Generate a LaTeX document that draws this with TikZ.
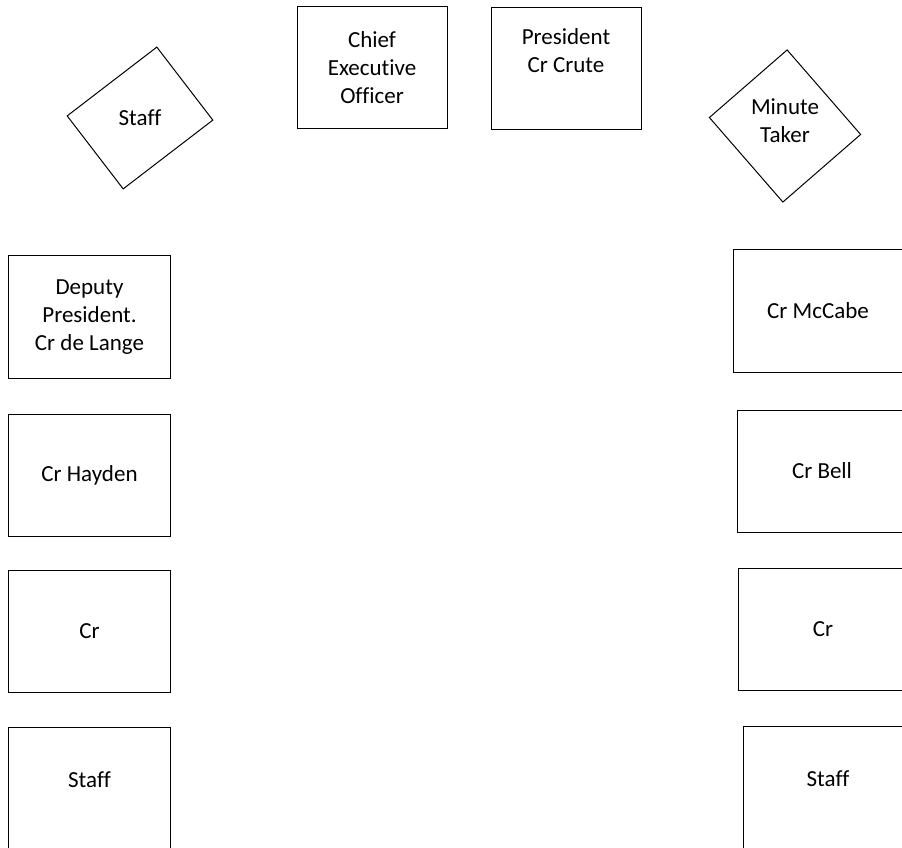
\documentclass[tikz,border=0pt]{standalone}
\usepackage{fontspec}
\setmainfont{Carlito}[Ligatures=NoCommon]
\usepackage{tikz}

\begin{document}
\begin{tikzpicture}[
  x=0.75pt, y=-0.75pt,
  seat/.style={draw, line width=0.75pt, rectangle, align=center, inner sep=0pt,
               minimum width=121.5pt, minimum height=91.5pt,
               font=\fontsize{17.25}{21}\selectfont},
  head/.style={seat, minimum width=112.5pt},
  side/.style={seat, minimum width=127.5pt},
  tilt/.style={draw, line width=0.75pt, rectangle, inner sep=0pt},
  lab/.style={align=center, inner sep=0pt, font=\fontsize{17.25}{21}\selectfont}
]
\useasboundingbox (0,0) rectangle (902,848);

% --- Head table ---
\node[head, text depth=-6pt] (ceo)  at (372, 68)   {Chief\\Executive\\Officer};
\node[head, text depth=27pt] (pres) at (566, 68.5) {President\\Cr Crute};

% --- Tilted seats at the corners ---
\node[tilt, rotate=37.5, minimum width=84.75pt, minimum height=69pt] (stfA) at (140, 118) {};
\node[lab] (stfAl) at (stfA.center) {Staff};
\node[tilt, rotate=41, minimum width=77.25pt, minimum height=84pt] (mint) at (785, 126) {};
\node[lab] (mintl) at ([yshift=4pt]mint.center) {Minute\\Taker};

% --- Left side ---
\node[seat] (dep) at (89.5, 317)   {Deputy\\President.\\Cr de Lange};
\node[seat] (hay) at (89.5, 475)   {Cr Hayden};
\node[seat] (crL) at (89.5, 631.5) {Cr};
\node[seat, text depth=12pt] (stfL) at (89.5, 788) {Staff};

% --- Right side ---
\node[side] (mcc) at (818, 311)  {Cr McCabe};
\node[side] (bel) at (822, 471)  {Cr Bell};
\node[side] (crR) at (823, 629)  {Cr};
\node[side, text depth=12pt] (stfR) at (828, 787) {Staff};

\end{tikzpicture}
\end{document}
